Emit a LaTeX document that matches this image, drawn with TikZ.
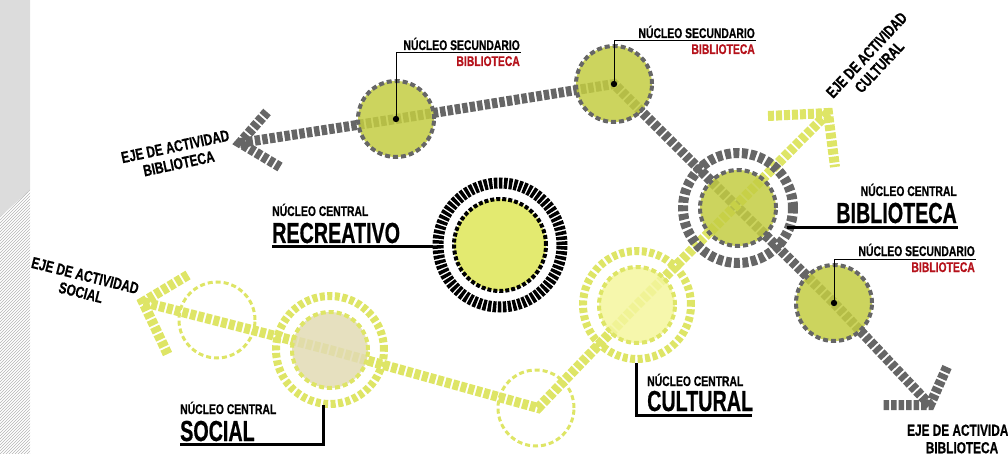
\documentclass[tikz,border=0pt]{standalone}
\usepackage{fontspec}
\newfontfamily\condsmall{Liberation Sans}[UprightFont={* Bold}, BoldFont={* Bold}, FakeStretch=0.74, FakeBold=0.6]
\newfontfamily\condbig{Liberation Sans}[UprightFont={* Bold}, BoldFont={* Bold}, FakeStretch=0.68, FakeBold=0.6]
\usetikzlibrary{patterns}

\definecolor{pathgray}{HTML}{666666}
\definecolor{nucgreen}{HTML}{C3CD42}
\definecolor{axisyel}{HTML}{DEE566}
\definecolor{socbeige}{HTML}{E2DBB4}
\definecolor{culpale}{HTML}{F4F69E}
\definecolor{recyel}{HTML}{E3EA70}
\definecolor{labred}{HTML}{B5121B}
\definecolor{bandtop}{HTML}{DCDCDC}
\definecolor{bandline}{HTML}{B4B4B4}

\begin{document}
\begin{tikzpicture}[x=1pt, y=-1pt,
    lblsmall/.style={font=\condsmall\fontsize{14}{15}\selectfont, inner sep=0pt},
    lblbig/.style={font=\condbig\fontsize{29}{30}\selectfont, inner sep=0pt},
    lblred/.style={lblsmall, text=labred},
    ejelbl/.style={font=\condsmall\fontsize{16}{17.5}\selectfont, align=center, inner sep=0pt},
    graypath/.style={draw=pathgray, line width=10pt, dash pattern=on 5.5pt off 2pt},
    yelpath/.style={draw=axisyel, line width=10pt, dash pattern=on 6pt off 2pt},
    core/.style={circle, inner sep=0pt, minimum size=76pt, line width=4pt, dash pattern=on 5pt off 3pt, fill opacity=0.85},
    secnode/.style={core, draw=pathgray, fill=nucgreen},
    ring/.style={circle, inner sep=0pt, minimum size=108pt, line width=8pt, dash pattern=on 5pt off 2.5pt},
    ghostring/.style={circle, inner sep=0pt, minimum size=76pt, draw=axisyel, line width=3pt, dash pattern=on 5pt off 3pt},
    leader/.style={draw=black, line width=1pt},
    ulthick/.style={draw=black, line width=3pt}
]
\useasboundingbox (0,0) rectangle (1008,454);

% left band
\fill[bandtop] (0,0) -- (30,0) -- (30,190) -- (0,217) -- cycle;
\fill[pattern=north east lines, pattern color=bandline] (0,217) -- (30,190) -- (30,454) -- (0,454) -- cycle;

% centres
\coordinate (sec1c) at (396,119);
\coordinate (sec2c) at (614,84);
\coordinate (sec3c) at (834,303);
\coordinate (bibc) at (738,208);
\coordinate (culc) at (637,305);
\coordinate (socc) at (330,350);
\coordinate (recc) at (500,245);

% axis ends
\coordinate (bibW) at (240,143);
\coordinate (bibWa) at (267,112);
\coordinate (bibWb) at (280,167);
\coordinate (bibE) at (930,405);
\coordinate (bibEa) at (947,367);
\coordinate (bibEb) at (882,405);
\coordinate (culN) at (828,113);
\coordinate (culNa) at (768,116);
\coordinate (culNb) at (835,167);
\coordinate (bend) at (538,408);
\coordinate (socW) at (143,302);
\coordinate (socWa) at (188,275);
\coordinate (socWb) at (168,355);

% biblioteca axis
\draw[graypath] (bibWa) -- (bibW) -- (bibWb);
\draw[graypath] (bibW) -- (sec1c) -- (sec2c) -- (bibc) -- (sec3c) -- (bibE);
\draw[graypath] (bibEa) -- (bibE) -- (bibEb);

% cultural / social axis
\draw[yelpath] (culNa) -- (culN) -- (culNb);
\draw[yelpath] (culN) -- (culc) -- (bend) -- (socc) -- (socW);
\draw[yelpath] (socWa) -- (socW) -- (socWb);

\node[ghostring] (ghost1) at (217,320) {};
\node[ghostring] (ghost2) at (536,408) {};

% rings
\node[ring, draw=pathgray, minimum size=110pt, line width=10pt, dash pattern=on 6pt off 2.5pt] (bibring) at (bibc) {};
\node[ring, draw=axisyel] (culring) at (culc) {};
\node[ring, draw=axisyel] (socring) at (socc) {};
\node[ring, draw=black, minimum size=124pt, line width=11pt, dash pattern=on 3.5pt off 1.5pt] (recring) at (recc) {};

% cores
\node[secnode] (sec1) at (sec1c) {};
\node[secnode] (sec2) at (sec2c) {};
\node[secnode] (sec3) at (sec3c) {};
\node[secnode] (bib) at (bibc) {};
\node[core, draw=axisyel, fill=culpale] (cul) at (culc) {};
\node[core, draw=axisyel, fill=socbeige] (soc) at (socc) {};
\node[core, draw=black, fill=recyel, fill opacity=1, minimum size=92pt, dash pattern=on 4pt off 2pt] (rec) at (recc) {};

% secondary labels
\node[lblsmall, anchor=base east] (sec1lbl) at (520,50) {NÚCLEO SECUNDARIO};
\node[lblred, anchor=base east] (sec1red) at (520,66) {BIBLIOTECA};
\coordinate (sec1ul) at (521,53);
\draw[leader] (sec1.center) |- (sec1ul);
\fill (sec1.center) circle (3.2);

\node[lblsmall, anchor=base east] (sec2lbl) at (755,38) {NÚCLEO SECUNDARIO};
\node[lblred, anchor=base east] (sec2red) at (755,54) {BIBLIOTECA};
\coordinate (sec2ul) at (756,41);
\draw[leader] (sec2.center) |- (sec2ul);
\fill (sec2.center) circle (3.2);

\node[lblsmall, anchor=base east] (sec3lbl) at (975,256) {NÚCLEO SECUNDARIO};
\node[lblred, anchor=base east] (sec3red) at (975,272) {BIBLIOTECA};
\coordinate (sec3ul) at (976,259);
\draw[leader] (sec3.center) |- (sec3ul);
\fill (sec3.center) circle (3.2);

% central labels
\node[lblsmall, anchor=base east] (biblbl) at (957,196) {NÚCLEO CENTRAL};
\node[lblbig, anchor=base east] (bibname) at (957,223) {BIBLIOTECA};
\coordinate (bibulA) at (787,228);
\coordinate (bibulB) at (958,228);
\draw[ulthick] (bibulA) -- (bibulB);

\node[lblsmall, anchor=base west] (reclbl) at (272,216) {NÚCLEO CENTRAL};
\node[lblbig, anchor=base west] (recname) at (272,243) {RECREATIVO};
\coordinate (reculA) at (272,246);
\coordinate (reculB) at (433,246);
\draw[ulthick] (reculA) -- (reculB);

\node[lblsmall, anchor=base west] (soclbl) at (180,414) {NÚCLEO CENTRAL};
\node[lblbig, anchor=base west] (socname) at (180,441) {SOCIAL};
\coordinate (soculA) at (180,444);
\coordinate (soculB) at (323,405);
\draw[ulthick] (soculA) -| (soculB);

\node[lblsmall, anchor=base west] (cullbl) at (647,386) {NÚCLEO CENTRAL};
\node[lblbig, anchor=base west] (culname) at (647,411) {CULTURAL};
\coordinate (cululA) at (752,415);
\coordinate (cululB) at (636,363);
\draw[ulthick] (cululA) -| (cululB);

% axis labels
\node[ejelbl, rotate=12] (ejebibW) at (177,155) {EJE DE ACTIVIDAD\\BIBLIOTECA};
\node[ejelbl, rotate=-14] (ejesoc) at (83,284) {EJE DE ACTIVIDAD\\SOCIAL};
\node[ejelbl, rotate=47] (ejecul) at (873,61) {EJE DE ACTIVIDAD\\CULTURAL};
\node[ejelbl] (ejebibE) at (962,439) {EJE DE ACTIVIDAD\\BIBLIOTECA};
\end{tikzpicture}
\end{document}
